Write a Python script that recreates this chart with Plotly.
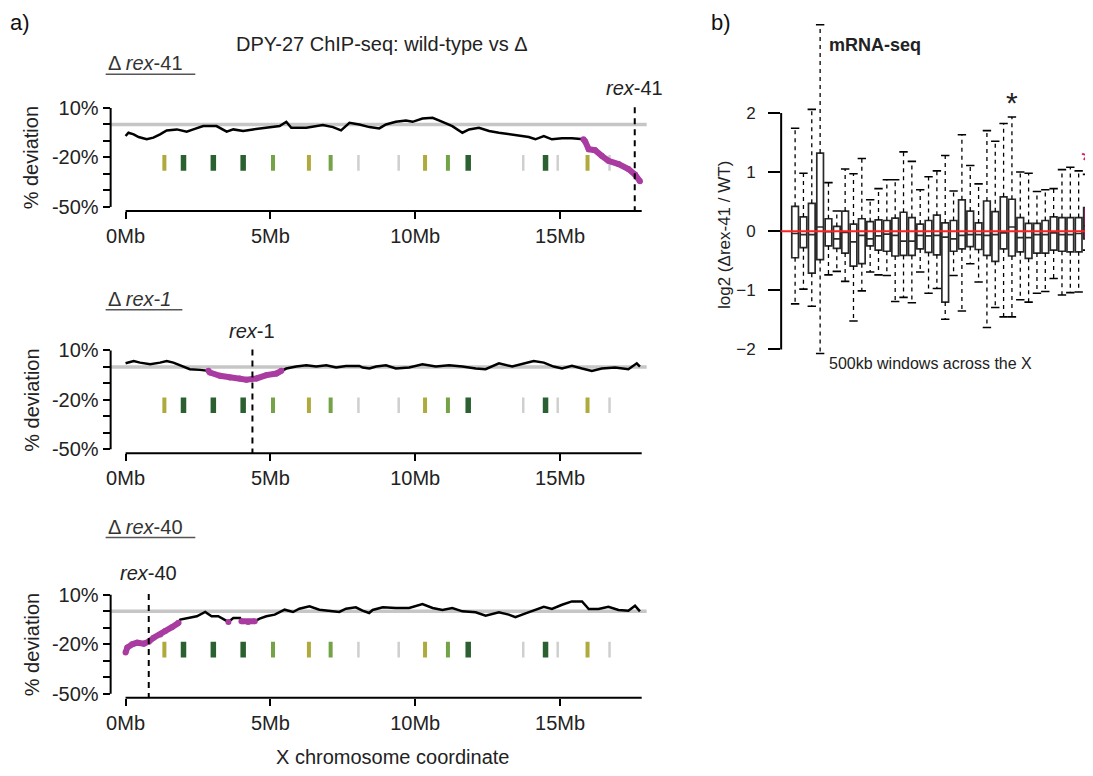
import plotly.graph_objects as go

W, H = 1093, 776
OFF = 8  # the page body keeps a default 8px margin around the figure
FW, FH = W - OFF, H - OFF
FONT = "Liberation Sans, Arial, sans-serif"

# ---- panel a: DPY-27 ChIP-seq, % deviation along the X chromosome (Mb)
X_LEN = 17.82

rex41_mb = [0, 0.1, 0.28, 0.45, 0.73, 0.96, 1.19, 1.42, 1.77, 2.11, 2.34, 2.68, 3.14, 3.49, 3.72,
            4.06, 4.4, 4.86, 5.32, 5.55, 5.72, 6.24, 6.81, 7.16, 7.44, 7.73, 8.07, 8.42, 8.76, 8.99,
            9.33, 9.68, 9.91, 10.25, 10.6, 10.94, 11.28, 11.63, 11.86, 12.2, 12.55, 12.89, 13.23,
            13.58, 13.92, 14.15, 14.44, 14.72, 15.07, 15.41, 15.81, 15.87, 15.99, 16.21, 16.44,
            16.67, 17.02, 17.36, 17.59, 17.76]
rex41_dev = [-7, -5, -6, -7.6, -9, -8, -6, -3.6, -3, -4.4, -3, -1, -1, -4.4, -3,
             -4, -3, -2, -1, 1.6, -2, -2, -0.4, -1.6, -3.6, 1, 0, -1.6, -2.4, 0,
             1.6, 2.4, 1.6, 3.6, 4, 1.6, -1, -5, -3, -2, -4, -5, -6,
             -7, -7.6, -9, -7, -9, -8.4, -8.4, -9, -10.4, -15, -15.6, -19,
             -22, -24, -27, -30.4, -34.4]
rex41_hl = [(15.81, 17.9)]

rex1_mb = [0, 0.28, 0.5, 0.85, 1.19, 1.42, 1.65, 1.99, 2.22, 2.57, 2.86, 2.91, 3.26, 3.6, 3.94,
           4.17, 4.52, 4.86, 5.21, 5.38, 5.55, 5.89, 6.24, 6.58, 6.93, 7.27, 7.61, 8.07, 8.19,
           8.42, 8.65, 8.99, 9.33, 9.79, 10.25, 10.71, 11.17, 11.63, 12.09, 12.43, 12.89, 13.35,
           13.69, 14.09, 14.44, 14.78, 15.07, 15.41, 15.76, 16.1, 16.44, 16.9, 17.36, 17.65, 17.76]
rex1_dev = [2.2, 3.6, 2.6, 1.6, 2.6, 3.6, 2.6, 0.2, -1.4, -1.8, -2.4, -3.4, -5.4, -6.4, -7,
            -7.8, -7, -5, -4, -2.4, -1, 0.2, 1, 0.2, 1, -0.4, 0.6, 0.6, -0.4,
            -1, 0.2, 1, -1, -0.4, 1.6, 0.2, 1, 0.2, -1, -1.4, 2.2, 0.2,
            1.6, 3.6, 2.6, 0.2, -1, 0.6, -1, -2.4, -1, -0.4, -1.4, 2.2, 0.2]
rex1_hl = [(2.86, 5.4)]

rex40_mb = [0, 0.06, 0.23, 0.4, 0.63, 0.8, 0.97, 1.2, 1.37, 1.6, 1.83, 1.89, 2.23, 2.46, 2.75,
            2.97, 3.2, 3.43, 3.55, 3.72, 3.95, 4.0, 4.23, 4.46, 4.63, 4.86, 5.15, 5.49, 5.78, 6.0,
            6.35, 6.69, 7.04, 7.38, 7.61, 7.95, 8.18, 8.41, 8.53, 8.88, 9.33, 9.79, 10.25, 10.6,
            10.94, 11.28, 11.63, 12.09, 12.43, 12.89, 13.23, 13.46, 13.81, 14.15, 14.44, 14.72,
            15.07, 15.41, 15.76, 15.93, 15.99, 16.33, 16.67, 17.02, 17.36, 17.59, 17.76]
rex40_dev = [-25, -22, -20, -19, -19.6, -18.4, -16, -14, -12, -9.6, -7, -5, -4, -3, -0.4,
             -3, -3, -5, -6.4, -4, -4, -6, -6.4, -6, -4.4, -3, -2, 1, -0.4, 1.6,
             3, 1, 0.4, -0.4, 1.6, 2.4, 0.4, -1, 0.8, 2.4, 2, 2, 4.4, 2,
             0.8, 2, 0, -0.6, -2.6, -0.6, -2, -3.6, -1.2, 0.8, 2.8, 1.4,
             4, 6, 6, 2.6, 1.4, 1.4, 2.8, 0.8, 0.4, 3.4, 0]
rex40_hl = [(0, 1.85), (3.5, 3.6), (3.98, 4.5)]

rex_sites = [17.58, 4.38, 0.8]
site_mb = [1.34, 2.0, 3.03, 4.06, 5.09, 6.33, 7.08, 8.04, 9.43, 10.34, 11.13, 11.83,
           13.73, 14.5, 14.92, 15.95, 16.71]
site_cls = ['olive', 'dark', 'dark', 'dark', 'light', 'olive', 'light', 'gray', 'gray',
            'olive', 'light', 'dark', 'gray', 'dark', 'gray', 'olive', 'gray']

# ---- panel b: mRNA-seq, 500kb windows across the X
win = list(range(1, 37))
q3 = [0.42, 0.24, 0.47, 1.32, 0.21, 0.08, 0.34, 0.12, 0.21, 0.16, 0.19, 0.18, 0.22, 0.32, 0.23,
      0.12, 0.18, 0.27, 0.14, 0.18, 0.53, 0.34, 0.14, 0.51, 0.33, 0.58, 0.54, 0.23, 0.13, 0.13,
      0.18, 0.24, 0.23, 0.23, 0.23, 0.40]
q1 = [-0.45, -0.28, -0.71, -0.48, -0.25, -0.29, -0.37, -0.59, -0.55, -0.25, -0.32, -0.34,
      -0.42, -0.41, -0.41, -0.30, -0.36, -0.40, -1.2, -0.34, -0.30, -0.26, -0.31, -0.41,
      -0.51, -0.30, -0.42, -0.35, -0.46, -0.37, -0.37, -0.32, -0.34, -0.35, -0.35, -0.13]
med = [-0.04, -0.06, -0.06, 0.07, -0.01, -0.13, -0.02, -0.18, -0.07, -0.13, -0.08, -0.05,
       -0.07, -0.17, -0.17, -0.07, -0.08, -0.07, -0.1, -0.13, -0.07, -0.06, -0.06, -0.07,
       -0.06, -0.03, 0.07, -0.11, -0.11, -0.06, -0.06, -0.03, -0.06, -0.06, -0.04, 0.09]
wt = [1.74, 0.98, 2.06, 3.49, 0.82, 0.34, 1.05, 0.97, 1.23, 0.53, 0.72, 0.87, 0.87, 1.34,
      1.18, 0.70, 0.92, 1.02, 1.28, 0.68, 1.63, 1.11, 0.80, 1.70, 1.52, 1.82, 1.93, 1.0, 0.98,
      0.67, 0.70, 0.72, 1.04, 1.08, 1.02, 0.96]
wb = [-1.23, -0.98, -1.27, -2.07, -0.74, -0.68, -0.85, -1.52, -1.01, -0.69, -0.74, -0.75,
      -1.19, -1.12, -1.21, -0.69, -1.05, -0.97, -1.49, -0.75, -1.35, -0.55, -0.86, -1.63,
      -1.29, -1.45, -1.45, -1.16, -1.2, -1.05, -1.02, -0.8, -1.08, -1.04, -1.03, -0.32]
sig_win = [27, 36]
sig_col = ['#222222', '#e0197d']
fill_win = [36]
PINK = '#e0197d'

SITE_COL = {'olive': '#aeaa3c', 'dark': '#2b6130', 'light': '#74a347', 'gray': '#cfcfcf'}
SITE_W = {'olive': 4, 'dark': 5.5, 'light': 4, 'gray': 2.5}
MAGENTA = '#a93ba1'


def px(x):
    return (x - OFF) / FW


def py(y):
    return 1 - (y - OFF) / FH


fig = go.Figure()
shapes, annots = [], []
layout = {}

panels = [
    (rex41_mb, rex41_dev, rex41_hl, 108, 'Δ <i>rex</i>-41', '<i>rex</i>-41', 63, 88, 192),
    (rex1_mb, rex1_dev, rex1_hl, 353, 'Δ <i>rex-1</i>', '<i>rex</i>-1', 301, 333, 179),
    (rex40_mb, rex40_dev, rex40_hl, 600, 'Δ <i>rex</i>-40', '<i>rex</i>-40', 531, 578, 192),
]
ppp = 100 / 60  # px per percent
for k, (mb, dev, hl, top, lab, sitelab, lab_y, site_y, ul_end) in enumerate(panels):
    n = '' if k == 0 else str(k + 1)
    xa, ya = 'x' + n, 'y' + n
    axis_px = top + 104
    yr = [-50 - 4 / ppp, 10 + 10 / ppp]
    layout['xaxis' + n] = dict(domain=[px(107), px(645)], range=[(107 - 122) / 29.07, (645 - 122) / 29.07],
                               anchor=ya, tickvals=[0, 5, 10, 15],
                               ticktext=['0Mb', '5Mb', '10Mb', '15Mb'], ticks='outside', ticklen=7,
                               tickwidth=2, tickcolor='black', showline=False, showgrid=False,
                               zeroline=False, tickfont=dict(size=20, color='#222'))
    layout['yaxis' + n] = dict(domain=[py(axis_px), py(top - 10)], range=yr, anchor=xa,
                               tickvals=[10, 0, -10, -20, -30, -40, -50],
                               ticktext=['10%', '', '', '-20%', '', '', '-50%'], ticks='outside',
                               ticklen=7, tickwidth=2, tickcolor='black', showline=False,
                               showgrid=False, zeroline=False, tickfont=dict(size=20, color='#222'))
    # axis spines
    shapes.append(dict(type='line', xref='paper', yref=ya, x0=px(107), x1=px(107), y0=-50, y1=10,
                       line=dict(color='black', width=2)))
    shapes.append(dict(type='line', xref=xa, yref=ya + ' domain', x0=0, x1=X_LEN, y0=0, y1=0,
                       line=dict(color='black', width=2)))
    # zero reference
    fig.add_trace(go.Scatter(x=[rex41_mb[0] - 0.5, X_LEN + 0.2], y=[0, 0], mode='lines',
                             line=dict(color='#c6c6c6', width=3.5), xaxis=xa, yaxis=ya,
                             hoverinfo='skip', showlegend=False))
    # binding sites
    for cls in ['gray', 'olive', 'light', 'dark']:
        xs, ys = [], []
        for m, c in zip(site_mb, site_cls):
            if c == cls:
                xs += [m, m, None]
                ys += [-18.5, -28, None]
        fig.add_trace(go.Scatter(x=xs, y=ys, mode='lines', xaxis=xa, yaxis=ya,
                                 line=dict(color=SITE_COL[cls], width=SITE_W[cls]),
                                 showlegend=False, hoverinfo='skip'))
    # deviation trace
    fig.add_trace(go.Scatter(x=mb, y=dev, mode='lines', line=dict(color='black', width=2.5),
                             xaxis=xa, yaxis=ya, showlegend=False))
    hx, hy = [], []
    for a, b in hl:
        for m, d in zip(mb, dev):
            if a <= m <= b:
                hx.append(m)
                hy.append(d)
        hx.append(None)
        hy.append(None)
    fig.add_trace(go.Scatter(x=hx, y=hy, mode='lines+markers', line=dict(color=MAGENTA, width=6),
                             marker=dict(color=MAGENTA, size=6), xaxis=xa, yaxis=ya,
                             showlegend=False))
    # deleted rex site
    fig.add_trace(go.Scatter(x=[rex_sites[k], rex_sites[k]], y=[10.5, yr[0]], mode='lines',
                             line=dict(color='black', width=2, dash='6px,5px'), xaxis=xa, yaxis=ya,
                             showlegend=False, hoverinfo='skip'))
    annots.append(dict(x=rex_sites[k], xref=xa, y=py(site_y), text=sitelab,
                       font=dict(size=20, color='#222')))
    annots.append(dict(x=px(102), y=py(lab_y), text=lab, xanchor='left',
                       font=dict(size=20, color='#333')))
    shapes.append(dict(type='line', xref='paper', yref='paper', x0=px(102), x1=px(ul_end),
                       y0=py(lab_y + 11), y1=py(lab_y + 11), line=dict(color='#555', width=1.5)))
    annots.append(dict(x=px(28), y=py(top + 50), text='% deviation',
                       textangle=-90, font=dict(size=20, color='#222')))

annots += [
    dict(x=px(16), y=py(22), text='a)', font=dict(size=22, color='#111')),
    dict(x=px(379), y=py(43), text='DPY-27 ChIP-seq: wild-type vs Δ', font=dict(size=20, color='#222')),
    dict(x=px(390), y=py(764), text='X chromosome coordinate', font=dict(size=20, color='#222')),
    dict(x=px(720), y=py(22), text='b)', font=dict(size=22, color='#111')),
    dict(x=px(874), y=py(44), text='<b>mRNA-seq</b>', font=dict(size=18, color='#222')),
    dict(x=px(723), y=py(236), text='log2 (Δrex-41 / WT)', textangle=-90,
         font=dict(size=17, color='#222')),
    dict(x=px(930), y=py(366), text='500kb windows across the X', font=dict(size=16, color='#222')),
]

# ---- panel b traces
# pink fill for the highlighted window(s), drawn under the box outlines
fx = [w for w in fill_win]
fig.add_trace(go.Bar(x=fx, y=[q3[w - 1] - q1[w - 1] for w in fx], base=[q1[w - 1] for w in fx],
                     width=0.8, marker=dict(color=PINK, line=dict(width=0)), xaxis='x4', yaxis='y4',
                     showlegend=False, hoverinfo='skip'))
fig.add_trace(go.Box(x=win, q1=q1, median=med, q3=q3, lowerfence=q1, upperfence=q3, width=0.8,
                     whiskerwidth=0, fillcolor='rgba(0,0,0,0)', line=dict(color='#2a2a2a', width=1.7),
                     boxpoints=False, xaxis='x4', yaxis='y4', showlegend=False))
wx, wy = [], []
for i, a, b, c, d in zip(win, q3, wt, q1, wb):
    wx += [i, i, None, i, i, None]
    wy += [a, b, None, c, d, None]
fig.add_trace(go.Scatter(x=wx, y=wy, mode='lines', line=dict(color='black', width=1.3, dash='4px,4px'),
                         xaxis='x4', yaxis='y4', showlegend=False, hoverinfo='skip'))
fig.add_trace(go.Scatter(x=win + win, y=wt + wb, mode='markers',
                         marker=dict(symbol='line-ew', size=6, line=dict(color='black', width=1.6)),
                         xaxis='x4', yaxis='y4', showlegend=False, hoverinfo='skip'))
fig.add_trace(go.Scatter(x=sig_win, y=[wt[s - 1] + 0.2 for s in sig_win], mode='text', text=['*'] * len(sig_win),
                         textfont=dict(size=30, color=sig_col, family=FONT), textposition='middle center',
                         xaxis='x4', yaxis='y4', showlegend=False, hoverinfo='skip', cliponaxis=False))

for a in annots:
    a.setdefault('xref', 'paper')
    a.setdefault('yref', 'paper')
    a.setdefault('showarrow', False)
    a.setdefault('xanchor', 'center')
    a.setdefault('yanchor', 'middle')

layout['xaxis4'] = dict(domain=[px(780), 1], range=[-0.673, 36.72], visible=False, anchor='y4')
layout['yaxis4'] = dict(domain=[py(360), py(15)], range=[-2.134, 3.64], anchor='x4',
                        tickvals=[-2, -1, 0, 1, 2], ticktext=['−2', '−1', '0', '1', '2'],
                        ticks='outside', ticklen=12, tickwidth=2, tickcolor='black', showline=False,
                        ticklabelstandoff=9, showgrid=False, zeroline=False,
                        tickfont=dict(size=17, color='#222'))
shapes.append(dict(type='line', xref='paper', yref='y4', x0=px(780), x1=px(780), y0=-2, y1=2,
                   line=dict(color='black', width=2)))
shapes.append(dict(type='line', xref='x4 domain', yref='y4', x0=0, x1=1, y0=0, y1=0,
                   line=dict(color='#ff2020', width=2)))

fig.update_layout(width=FW, height=FH, margin=dict(l=0, r=0, t=0, b=0), autosize=False,
                  paper_bgcolor='white', plot_bgcolor='white', boxmode='overlay', barmode='overlay',
                  font=dict(family=FONT, color='#222'), shapes=shapes, annotations=annots,
                  showlegend=False, **layout)
fig.write_html("out.html")
